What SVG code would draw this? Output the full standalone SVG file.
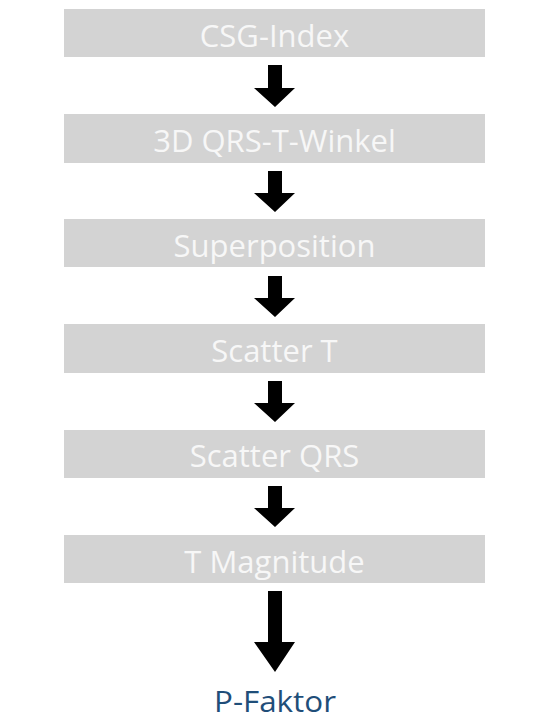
<svg xmlns="http://www.w3.org/2000/svg" width="535" height="722" viewBox="0 0 535 722">
<style>
.box{fill:#d3d3d3}
.lbl{font-family:"Open Sans","Liberation Sans",sans-serif;font-size:31px;fill:#f7f7f7;text-anchor:middle}
.out{font-family:"Open Sans","Liberation Sans",sans-serif;font-size:30px;fill:#1f4e79;text-anchor:middle}
.arr{fill:#000}
</style>
<rect width="535" height="722" fill="#fff"/>
<g id="n1"><rect class="box" x="64" y="9" width="421" height="48"/><text class="lbl" x="274.5" y="46.5">CSG-Index</text></g>
<g id="n2"><rect class="box" x="64" y="114" width="421" height="49"/><text class="lbl" x="274.5" y="151.7">3D QRS-T-Winkel</text></g>
<g id="n3"><rect class="box" x="64" y="219" width="421" height="48"/><text class="lbl" x="274.5" y="256.8">Superposition</text></g>
<g id="n4"><rect class="box" x="64" y="324" width="421" height="49"/><text class="lbl" x="274.5" y="362">Scatter T</text></g>
<g id="n5"><rect class="box" x="64" y="430" width="421" height="48"/><text class="lbl" x="274.5" y="467.2">Scatter QRS</text></g>
<g id="n6"><rect class="box" x="64" y="535" width="421" height="48"/><text class="lbl" x="274.5" y="572.5">T Magnitude</text></g>
<g id="n7"><text class="out" x="275" y="712" textLength="122" lengthAdjust="spacingAndGlyphs">P-Faktor</text></g>
<g id="connectors">
<path class="arr" d="M268,65 H282 V88 H295 L275,107 L254,88 H268 Z"/>
<path class="arr" d="M268,171 H282 V193 H295 L275,212 L254,193 H268 Z"/>
<path class="arr" d="M268,276 H282 V298 H295 L275,317 L254,298 H268 Z"/>
<path class="arr" d="M268,381 H282 V403 H295 L275,422 L254,403 H268 Z"/>
<path class="arr" d="M268,486 H282 V508 H295 L275,527 L254,508 H268 Z"/>
<path class="arr" d="M268,591 H282 V642 H295 L275,672 L254,642 H268 Z"/>
</g>
</svg>
